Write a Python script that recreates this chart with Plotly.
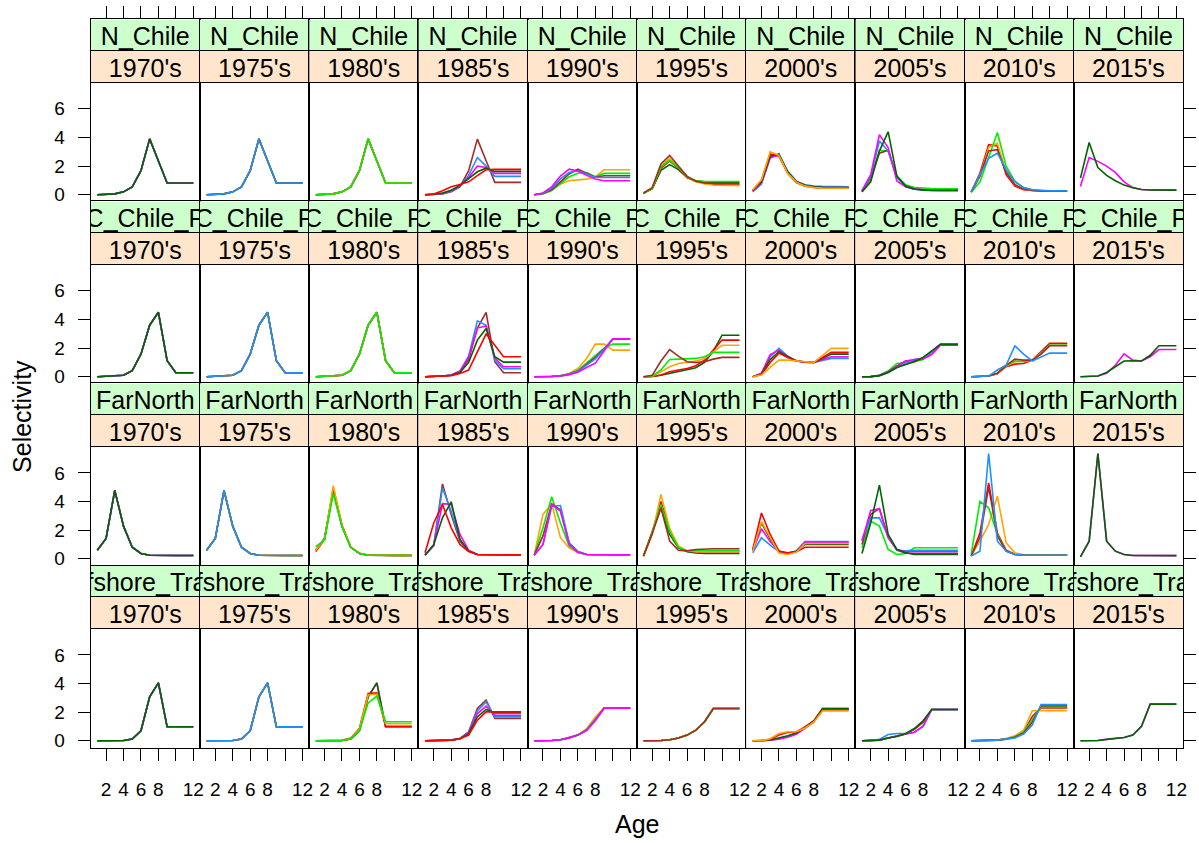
import plotly.graph_objects as go

# ---------------------------------------------------------------- data
AGES = list(range(1, 13))
FLEETS = ["N_Chile", "SC_Chile_PS", "FarNorth", "Offshore_Trawl"]
PERIOD_STARTS = [1970, 1975, 1980, 1985, 1990, 1995, 2000, 2005, 2010, 2015]
PERIOD_LABELS = ["1970's", "1975's", "1980's", "1985's", "1990's",
                 "1995's", "2000's", "2005's", "2010's", "2015's"]
Y_TICKS = [0, 2, 4, 6]
X_TICKS = [2, 4, 6, 8, 10, 12]
X_TICK_TEXT = ["2", "4", "6", "8", "", "12"]

# selectivity-at-age by year, one dict per fleet
N_CHILE_1970_84 = [0.00, 0.02, 0.06, 0.20, 0.55, 1.68, 3.90, 2.36, 0.82, 0.82, 0.82, 0.82]
N_CHILE = {
    **{y: N_CHILE_1970_84 for y in range(1970, 1985)},
    1985: [0.00, 0.02, 0.06, 0.20, 0.55, 1.68, 3.88, 2.37, 0.86, 0.86, 0.86, 0.86],
    1986: [0.00, 0.02, 0.08, 0.25, 0.60, 1.35, 2.60, 2.00, 1.28, 1.28, 1.28, 1.28],
    1987: [0.00, 0.02, 0.10, 0.28, 0.62, 1.20, 2.00, 1.90, 1.49, 1.49, 1.49, 1.49],
    1988: [0.00, 0.03, 0.12, 0.32, 0.65, 1.10, 1.60, 1.85, 1.63, 1.63, 1.63, 1.63],
    1989: [0.00, 0.05, 0.28, 0.56, 0.72, 0.90, 1.33, 1.74, 1.77, 1.77, 1.77, 1.77],
    1990: [0.00, 0.08, 0.40, 0.74, 0.98, 1.02, 1.09, 1.25, 1.74, 1.74, 1.74, 1.74],
    1991: [0.00, 0.06, 0.30, 0.80, 1.25, 1.50, 1.55, 1.25, 1.49, 1.49, 1.49, 1.49],
    1992: [0.00, 0.08, 0.35, 0.90, 1.45, 1.78, 1.50, 1.22, 1.33, 1.33, 1.33, 1.33],
    1993: [0.00, 0.10, 0.45, 1.10, 1.55, 1.68, 1.45, 1.22, 1.20, 1.20, 1.20, 1.20],
    1994: [0.00, 0.12, 0.55, 1.30, 1.78, 1.65, 1.35, 1.10, 0.98, 0.98, 0.98, 0.98],
    1995: [0.10, 0.40, 1.70, 2.10, 1.75, 1.20, 0.98, 0.90, 0.88, 0.86, 0.86, 0.86],
    1996: [0.10, 0.45, 1.85, 2.35, 1.85, 1.20, 0.92, 0.80, 0.72, 0.70, 0.70, 0.70],
    1997: [0.10, 0.45, 2.00, 2.55, 1.95, 1.25, 0.90, 0.75, 0.68, 0.65, 0.65, 0.65],
    1998: [0.10, 0.45, 1.95, 2.40, 1.90, 1.25, 0.98, 0.92, 0.92, 0.92, 0.92, 0.92],
    1999: [0.12, 0.50, 2.15, 2.75, 2.00, 1.28, 0.95, 0.82, 0.78, 0.78, 0.78, 0.78],
    2000: [0.20, 0.75, 2.55, 2.88, 1.65, 0.95, 0.70, 0.60, 0.58, 0.56, 0.56, 0.56],
    2001: [0.25, 0.85, 2.60, 2.75, 1.55, 0.90, 0.65, 0.55, 0.52, 0.50, 0.50, 0.50],
    2002: [0.30, 0.90, 2.70, 2.82, 1.60, 0.92, 0.66, 0.56, 0.52, 0.50, 0.50, 0.50],
    2003: [0.30, 1.00, 2.85, 2.70, 1.50, 0.85, 0.60, 0.50, 0.46, 0.45, 0.45, 0.45],
    2004: [0.35, 1.05, 3.00, 2.75, 1.50, 0.88, 0.60, 0.50, 0.46, 0.45, 0.45, 0.45],
    2005: [0.25, 1.10, 3.10, 3.05, 1.30, 0.70, 0.50, 0.45, 0.43, 0.42, 0.42, 0.42],
    2006: [0.25, 1.20, 2.90, 3.10, 1.25, 0.60, 0.40, 0.35, 0.33, 0.32, 0.32, 0.32],
    2007: [0.22, 1.30, 3.75, 3.05, 1.20, 0.55, 0.38, 0.32, 0.30, 0.30, 0.30, 0.30],
    2008: [0.28, 1.40, 4.20, 3.30, 0.95, 0.55, 0.38, 0.33, 0.31, 0.30, 0.30, 0.30],
    2009: [0.20, 0.90, 3.05, 4.40, 1.30, 0.60, 0.40, 0.32, 0.30, 0.30, 0.30, 0.30],
    2010: [0.20, 1.50, 3.50, 3.40, 1.40, 0.60, 0.35, 0.28, 0.25, 0.25, 0.25, 0.25],
    2011: [0.20, 1.30, 3.30, 3.60, 1.60, 0.70, 0.40, 0.30, 0.27, 0.26, 0.26, 0.26],
    2012: [0.15, 0.90, 2.60, 4.35, 2.00, 0.95, 0.50, 0.35, 0.30, 0.28, 0.28, 0.28],
    2013: [0.20, 1.30, 3.05, 3.15, 1.55, 0.70, 0.40, 0.30, 0.27, 0.26, 0.26, 0.26],
    2014: [0.20, 1.40, 2.55, 2.90, 1.75, 0.90, 0.50, 0.35, 0.30, 0.28, 0.28, 0.28],
    2015: [0.58, 2.60, 2.33, 2.00, 1.56, 0.90, 0.50, 0.37, 0.33, 0.32, 0.32, 0.32],
    2016: [1.16, 3.65, 1.90, 1.35, 0.98, 0.67, 0.48, 0.36, 0.33, 0.32, 0.32, 0.32],
}

SC_CHILE_1970_84 = [0.00, 0.01, 0.07, 0.10, 0.42, 1.58, 3.60, 4.50, 1.12, 0.28, 0.28, 0.28]
SC_CHILE_PS = {
    **{y: SC_CHILE_1970_84 for y in range(1970, 1985)},
    1985: [0.00, 0.01, 0.05, 0.10, 0.35, 1.20, 3.40, 4.50, 1.05, 0.28, 0.28, 0.28],
    1986: [0.00, 0.01, 0.05, 0.12, 0.40, 1.45, 3.90, 3.60, 1.16, 0.56, 0.56, 0.56],
    1987: [0.00, 0.01, 0.05, 0.12, 0.38, 1.35, 3.40, 3.55, 1.30, 0.70, 0.70, 0.70],
    1988: [0.00, 0.01, 0.05, 0.10, 0.30, 1.00, 2.56, 3.37, 1.40, 1.02, 1.02, 1.02],
    1989: [0.00, 0.01, 0.04, 0.08, 0.22, 0.47, 1.74, 2.98, 2.20, 1.40, 1.40, 1.40],
    1990: [0.00, 0.00, 0.02, 0.08, 0.23, 0.58, 1.28, 2.28, 2.28, 1.86, 1.86, 1.86],
    1991: [0.00, 0.00, 0.02, 0.07, 0.20, 0.45, 0.95, 1.50, 2.00, 2.28, 2.28, 2.28],
    1992: [0.00, 0.00, 0.02, 0.06, 0.18, 0.40, 0.85, 1.35, 1.95, 2.63, 2.63, 2.63],
    1993: [0.00, 0.00, 0.02, 0.06, 0.16, 0.38, 0.80, 1.25, 1.90, 2.65, 2.65, 2.65],
    1994: [0.00, 0.00, 0.02, 0.05, 0.15, 0.32, 0.65, 0.95, 1.80, 2.65, 2.65, 2.65],
    1995: [0.00, 0.02, 0.10, 0.23, 0.35, 0.47, 0.63, 1.00, 1.79, 2.90, 2.90, 2.90],
    1996: [0.00, 0.02, 0.12, 0.35, 0.47, 0.58, 0.77, 1.16, 1.86, 2.56, 2.56, 2.56],
    1997: [0.00, 0.03, 0.35, 0.70, 0.93, 1.00, 1.09, 1.28, 1.74, 2.20, 2.20, 2.20],
    1998: [0.00, 0.05, 0.47, 1.20, 1.23, 1.23, 1.28, 1.40, 1.70, 1.70, 1.70, 1.70],
    1999: [0.00, 0.10, 1.10, 1.90, 1.44, 1.05, 1.00, 1.05, 1.23, 1.35, 1.35, 1.35],
    2000: [0.00, 0.20, 1.40, 1.98, 1.45, 1.10, 1.02, 1.00, 1.14, 1.28, 1.28, 1.28],
    2001: [0.00, 0.25, 1.55, 1.85, 1.40, 1.10, 1.02, 1.00, 1.20, 1.40, 1.40, 1.40],
    2002: [0.00, 0.20, 1.20, 1.75, 1.40, 1.12, 1.02, 1.00, 1.29, 1.58, 1.58, 1.58],
    2003: [0.00, 0.15, 1.00, 1.65, 1.35, 1.12, 1.02, 1.00, 1.35, 1.70, 1.70, 1.70],
    2004: [0.00, 0.12, 0.65, 1.16, 1.16, 1.10, 1.02, 1.00, 1.49, 1.98, 1.98, 1.98],
    2005: [0.00, 0.01, 0.10, 0.40, 0.93, 1.00, 1.05, 1.20, 1.74, 2.26, 2.26, 2.26],
    2006: [0.00, 0.01, 0.10, 0.35, 0.75, 1.10, 1.10, 1.25, 1.74, 2.26, 2.26, 2.26],
    2007: [0.00, 0.01, 0.08, 0.30, 0.65, 0.90, 1.20, 1.30, 1.70, 2.26, 2.26, 2.26],
    2008: [0.00, 0.01, 0.08, 0.32, 0.70, 1.10, 1.20, 1.25, 1.55, 2.20, 2.20, 2.20],
    2009: [0.00, 0.01, 0.08, 0.30, 0.65, 0.85, 1.05, 1.35, 1.80, 2.26, 2.26, 2.26],
    2010: [0.00, 0.00, 0.05, 0.20, 0.70, 0.88, 0.93, 1.16, 1.74, 2.33, 2.33, 2.33],
    2011: [0.00, 0.00, 0.05, 0.22, 0.75, 1.05, 1.10, 1.16, 1.65, 2.20, 2.20, 2.20],
    2012: [0.00, 0.00, 0.05, 0.25, 0.80, 1.10, 1.05, 1.16, 1.60, 2.20, 2.20, 2.20],
    2013: [0.00, 0.00, 0.05, 0.25, 0.80, 1.23, 1.16, 1.16, 1.58, 2.16, 2.16, 2.16],
    2014: [0.00, 0.00, 0.05, 0.47, 0.80, 2.16, 1.58, 1.10, 1.40, 1.65, 1.65, 1.65],
    2015: [0.00, 0.00, 0.05, 0.25, 0.80, 1.60, 1.16, 1.10, 1.40, 1.90, 1.90, 1.90],
    2016: [0.00, 0.00, 0.05, 0.30, 0.70, 1.10, 1.12, 1.10, 1.50, 2.16, 2.16, 2.16],
}

FAR_NORTH_1970_81 = [0.60, 1.42, 4.77, 2.28, 0.81, 0.37, 0.25, 0.23, 0.23, 0.23, 0.23, 0.23]
FAR_NORTH = {
    **{y: FAR_NORTH_1970_81 for y in range(1970, 1982)},
    1982: [0.50, 1.35, 4.95, 2.35, 0.82, 0.38, 0.26, 0.24, 0.24, 0.24, 0.24, 0.24],
    1983: [0.60, 1.38, 5.10, 2.40, 0.83, 0.38, 0.26, 0.24, 0.24, 0.24, 0.24, 0.24],
    1984: [0.85, 1.30, 4.55, 2.25, 0.80, 0.37, 0.25, 0.24, 0.24, 0.24, 0.24, 0.24],
    1985: [0.28, 0.90, 5.23, 3.10, 1.23, 0.53, 0.30, 0.28, 0.28, 0.28, 0.28, 0.28],
    1986: [0.25, 0.95, 4.95, 3.30, 1.35, 0.55, 0.30, 0.28, 0.28, 0.28, 0.28, 0.28],
    1987: [0.25, 0.95, 3.85, 3.80, 1.70, 0.60, 0.30, 0.28, 0.28, 0.28, 0.28, 0.28],
    1988: [0.25, 1.00, 2.86, 3.98, 1.35, 0.53, 0.30, 0.28, 0.28, 0.28, 0.28, 0.28],
    1989: [0.42, 2.50, 3.80, 2.16, 1.00, 0.50, 0.30, 0.28, 0.28, 0.28, 0.28, 0.28],
    1990: [0.28, 3.10, 3.84, 1.47, 0.77, 0.42, 0.30, 0.28, 0.28, 0.28, 0.28, 0.28],
    1991: [0.25, 2.16, 4.33, 2.50, 0.90, 0.45, 0.30, 0.28, 0.28, 0.28, 0.28, 0.28],
    1992: [0.25, 1.60, 3.84, 3.40, 1.10, 0.50, 0.30, 0.28, 0.28, 0.28, 0.28, 0.28],
    1993: [0.25, 1.00, 3.67, 3.72, 1.12, 0.50, 0.30, 0.28, 0.28, 0.28, 0.28, 0.28],
    1994: [0.25, 1.00, 3.80, 3.33, 1.00, 0.45, 0.30, 0.28, 0.28, 0.28, 0.28, 0.28],
    1995: [0.20, 1.93, 3.56, 1.70, 0.77, 0.50, 0.40, 0.37, 0.37, 0.37, 0.37, 0.37],
    1996: [0.20, 1.85, 4.00, 2.00, 0.85, 0.55, 0.50, 0.50, 0.50, 0.50, 0.50, 0.50],
    1997: [0.15, 1.70, 4.50, 2.10, 0.90, 0.55, 0.50, 0.50, 0.50, 0.50, 0.50, 0.50],
    1998: [0.20, 1.80, 3.80, 1.90, 0.80, 0.55, 0.58, 0.58, 0.58, 0.58, 0.58, 0.58],
    1999: [0.20, 1.75, 3.56, 1.23, 0.60, 0.55, 0.65, 0.70, 0.70, 0.70, 0.70, 0.70],
    2000: [0.42, 1.47, 0.95, 0.50, 0.38, 0.55, 1.21, 1.21, 1.21, 1.21, 1.21, 1.21],
    2001: [0.55, 2.10, 1.20, 0.50, 0.35, 0.50, 1.16, 1.16, 1.16, 1.16, 1.16, 1.16],
    2002: [0.60, 2.50, 1.40, 0.55, 0.38, 0.52, 1.00, 1.00, 1.00, 1.00, 1.00, 1.00],
    2003: [0.65, 3.20, 1.70, 0.53, 0.42, 0.50, 0.81, 0.81, 0.81, 0.81, 0.81, 0.81],
    2004: [0.50, 2.60, 1.50, 0.40, 0.30, 0.45, 1.07, 1.07, 1.07, 1.07, 1.07, 1.07],
    2005: [0.77, 2.63, 2.28, 0.65, 0.30, 0.37, 0.77, 0.77, 0.77, 0.77, 0.77, 0.77],
    2006: [1.00, 3.10, 3.50, 1.50, 0.60, 0.40, 0.37, 0.37, 0.37, 0.37, 0.37, 0.37],
    2007: [1.35, 2.86, 2.86, 1.58, 0.60, 0.55, 0.60, 0.60, 0.60, 0.60, 0.60, 0.60],
    2008: [1.23, 3.37, 3.50, 1.47, 0.65, 0.49, 0.49, 0.49, 0.49, 0.49, 0.49, 0.49],
    2009: [0.37, 2.50, 5.14, 1.70, 0.65, 0.42, 0.30, 0.30, 0.30, 0.30, 0.30, 0.30],
    2010: [0.20, 1.80, 5.30, 1.80, 0.60, 0.32, 0.26, 0.25, 0.25, 0.25, 0.25, 0.25],
    2011: [0.20, 1.23, 2.40, 4.37, 1.12, 0.42, 0.28, 0.25, 0.25, 0.25, 0.25, 0.25],
    2012: [0.30, 4.00, 3.56, 1.70, 0.53, 0.30, 0.26, 0.25, 0.25, 0.25, 0.25, 0.25],
    2013: [0.20, 1.50, 5.00, 1.60, 0.55, 0.30, 0.26, 0.25, 0.25, 0.25, 0.25, 0.25],
    2014: [0.19, 0.53, 7.35, 1.23, 0.53, 0.30, 0.25, 0.25, 0.25, 0.25, 0.25, 0.25],
    2015: [0.14, 1.23, 7.35, 1.23, 0.53, 0.30, 0.23, 0.22, 0.22, 0.22, 0.22, 0.22],
    2016: [0.14, 1.23, 7.35, 1.23, 0.53, 0.30, 0.23, 0.22, 0.22, 0.22, 0.22, 0.22],
}

OFFSHORE_1970_81 = [0.00, 0.00, 0.00, 0.02, 0.12, 0.70, 3.07, 4.05, 0.98, 0.98, 0.98, 0.98]
OFFSHORE_TRAWL = {
    **{y: OFFSHORE_1970_81 for y in range(1970, 1982)},
    1982: [0.00, 0.00, 0.00, 0.03, 0.20, 0.86, 3.30, 3.35, 1.02, 1.02, 1.02, 1.02],
    1983: [0.00, 0.00, 0.00, 0.03, 0.18, 0.80, 3.20, 3.26, 1.20, 1.20, 1.20, 1.20],
    1984: [0.00, 0.00, 0.00, 0.03, 0.15, 0.70, 2.65, 3.12, 1.33, 1.33, 1.33, 1.33],
    1985: [0.00, 0.00, 0.00, 0.05, 0.16, 0.63, 2.26, 2.84, 1.56, 1.56, 1.56, 1.56],
    1986: [0.00, 0.00, 0.00, 0.05, 0.16, 0.60, 2.10, 2.72, 1.67, 1.67, 1.67, 1.67],
    1987: [0.00, 0.00, 0.00, 0.05, 0.16, 0.55, 1.90, 2.42, 1.79, 1.79, 1.79, 1.79],
    1988: [0.00, 0.00, 0.00, 0.05, 0.15, 0.50, 1.67, 2.19, 1.95, 1.95, 1.95, 1.95],
    1989: [0.00, 0.00, 0.00, 0.04, 0.14, 0.40, 1.44, 2.02, 2.02, 2.02, 2.02, 2.02],
    1990: [0.00, 0.00, 0.02, 0.08, 0.22, 0.42, 0.85, 1.67, 2.30, 2.30, 2.30, 2.30],
    1991: [0.00, 0.00, 0.02, 0.07, 0.21, 0.41, 0.78, 1.50, 2.28, 2.28, 2.28, 2.28],
    1992: [0.00, 0.00, 0.02, 0.07, 0.21, 0.40, 0.76, 1.47, 2.28, 2.28, 2.28, 2.28],
    1993: [0.00, 0.00, 0.02, 0.07, 0.20, 0.40, 0.74, 1.44, 2.28, 2.28, 2.28, 2.28],
    1994: [0.00, 0.00, 0.02, 0.07, 0.20, 0.40, 0.72, 1.40, 2.28, 2.28, 2.28, 2.28],
    1995: [0.00, 0.00, 0.02, 0.07, 0.20, 0.40, 0.74, 1.33, 2.26, 2.26, 2.26, 2.26],
    1996: [0.00, 0.00, 0.02, 0.07, 0.20, 0.40, 0.74, 1.33, 2.26, 2.26, 2.26, 2.26],
    1997: [0.00, 0.00, 0.02, 0.07, 0.20, 0.40, 0.74, 1.33, 2.26, 2.26, 2.26, 2.26],
    1998: [0.00, 0.00, 0.02, 0.07, 0.20, 0.40, 0.74, 1.33, 2.26, 2.26, 2.26, 2.26],
    1999: [0.00, 0.00, 0.02, 0.07, 0.20, 0.40, 0.74, 1.33, 2.26, 2.26, 2.26, 2.26],
    2000: [0.00, 0.00, 0.05, 0.15, 0.30, 0.55, 0.90, 1.35, 2.20, 2.20, 2.20, 2.20],
    2001: [0.00, 0.00, 0.04, 0.12, 0.25, 0.45, 0.85, 1.30, 2.25, 2.25, 2.25, 2.25],
    2002: [0.00, 0.00, 0.06, 0.20, 0.35, 0.55, 0.95, 1.40, 2.25, 2.25, 2.25, 2.25],
    2003: [0.00, 0.00, 0.10, 0.40, 0.58, 0.63, 0.95, 1.35, 2.15, 2.15, 2.15, 2.15],
    2004: [0.00, 0.00, 0.15, 0.51, 0.63, 0.63, 0.90, 1.30, 2.08, 2.08, 2.08, 2.08],
    2005: [0.00, 0.00, 0.05, 0.20, 0.32, 0.50, 0.80, 1.30, 2.19, 2.19, 2.19, 2.19],
    2006: [0.00, 0.00, 0.05, 0.20, 0.33, 0.50, 0.80, 1.30, 2.19, 2.19, 2.19, 2.19],
    2007: [0.00, 0.00, 0.10, 0.44, 0.51, 0.51, 0.58, 1.00, 2.19, 2.19, 2.19, 2.19],
    2008: [0.00, 0.00, 0.05, 0.20, 0.35, 0.45, 0.60, 1.02, 2.19, 2.19, 2.19, 2.19],
    2009: [0.00, 0.00, 0.05, 0.20, 0.30, 0.50, 0.86, 1.40, 2.19, 2.19, 2.19, 2.19],
    2010: [0.00, 0.00, 0.02, 0.05, 0.15, 0.30, 0.60, 1.70, 2.30, 2.30, 2.30, 2.30],
    2011: [0.00, 0.00, 0.02, 0.05, 0.15, 0.35, 0.74, 2.10, 2.10, 2.10, 2.10, 2.10],
    2012: [0.00, 0.00, 0.02, 0.05, 0.13, 0.28, 0.60, 1.50, 2.37, 2.37, 2.37, 2.37],
    2013: [0.00, 0.00, 0.02, 0.05, 0.12, 0.25, 0.55, 1.30, 2.45, 2.45, 2.45, 2.45],
    2014: [0.00, 0.00, 0.02, 0.05, 0.12, 0.20, 0.47, 1.10, 2.53, 2.53, 2.53, 2.53],
    2015: [0.00, 0.00, 0.02, 0.10, 0.16, 0.23, 0.40, 1.02, 2.56, 2.56, 2.56, 2.56],
    2016: [0.00, 0.00, 0.02, 0.10, 0.16, 0.23, 0.40, 1.02, 2.56, 2.56, 2.56, 2.56],
}

FLEET_SERIES = [N_CHILE, SC_CHILE_PS, FAR_NORTH, OFFSHORE_TRAWL]

# ---------------------------------------------------------------- style
# group colours cycle with the year (1970 -> first entry)
YEAR_COLOURS = ["#00EE00", "#A52A2A", "#1E90FF", "#FF00FF",
                "#006400", "#FF0000", "#FFA500"]
STRIP_PERIOD_BG = "#FFE5CC"
STRIP_FLEET_BG = "#CCFFCC"
FONT = "Liberation Sans, Arial, Helvetica, sans-serif"

W, H = 1199, 843
LEFT, PANEL_W = 91.0, 109.6
TOP, ROW_STEP, PANEL_H, STRIP_H = 82.7, 182.9, 120.0, 31.6
X_RANGE = [0.24, 12.76]
Y_RANGE = [-0.49, 7.85]
N_COLS = len(PERIOD_STARTS)
N_PANELS = N_COLS * len(FLEETS)
# vertical position of the strip labels inside each strip band (band = 1 unit)
STRIP_TEXT_Y = [0.38, 1.38]


def fx(px):
    return px / W


def fy(py):
    return 1 - py / H


fig = go.Figure()
layout = {}
shapes = []

for r, (fleet, series) in enumerate(zip(FLEETS, FLEET_SERIES)):
    for c, (start, label) in enumerate(zip(PERIOD_STARTS, PERIOD_LABELS)):
        k = r * N_COLS + c + 1          # data panel
        s = k + N_PANELS                # strip panel above it
        x0 = LEFT + c * PANEL_W
        x1 = x0 + PANEL_W
        p_top = TOP + r * ROW_STEP
        p_bot = p_top + PANEL_H
        s_top = p_top - 2 * STRIP_H

        bottom_row = r == len(FLEETS) - 1
        first_col = c == 0
        last_col = c == N_COLS - 1

        layout[f"xaxis{k}"] = dict(
            domain=[fx(x0), fx(x1)], anchor=f"y{k}", range=X_RANGE,
            showgrid=False, zeroline=False,
            showline=True, mirror=True, linecolor="#000", linewidth=1.2,
            ticks="outside" if bottom_row else "", ticklen=12,
            tickwidth=1, tickcolor="#000",
            tickvals=X_TICKS, ticktext=X_TICK_TEXT,
            showticklabels=bottom_row, ticklabelstandoff=12,
            tickfont=dict(family=FONT, size=19, color="#000"),
        )
        layout[f"yaxis{k}"] = dict(
            domain=[fy(p_bot), fy(p_top)], anchor=f"x{k}", range=Y_RANGE,
            showgrid=False, zeroline=False,
            showline=True, mirror=True, linecolor="#000", linewidth=1.2,
            side="right" if last_col else "left",
            ticks="outside" if (first_col or last_col) else "", ticklen=12,
            tickwidth=1, tickcolor="#000",
            tickvals=Y_TICKS, showticklabels=first_col, ticklabelstandoff=9,
            tickfont=dict(family=FONT, size=19, color="#000"),
        )

        # strip panel: period on the lower strip, fleet on the upper one
        layout[f"xaxis{s}"] = dict(
            domain=[fx(x0), fx(x1)], anchor=f"y{s}", range=X_RANGE,
            showgrid=False, zeroline=False,
            showline=True, mirror=True, linecolor="#000", linewidth=1.2,
            side="top",
            ticks="outside" if r == 0 else "", ticklen=12,
            tickwidth=1, tickcolor="#000",
            tickvals=X_TICKS, showticklabels=False,
        )
        layout[f"yaxis{s}"] = dict(
            domain=[fy(p_top), fy(s_top)], anchor=f"x{s}", range=[0, 2],
            showgrid=True, gridcolor="#000", gridwidth=1.2, tickvals=[1],
            zeroline=False, showticklabels=False, ticks="",
            showline=True, mirror=True, linecolor="#000", linewidth=1.2,
        )
        shapes.append(dict(type="rect", xref=f"x{s}", yref=f"y{s}",
                           x0=X_RANGE[0], x1=X_RANGE[1], y0=0, y1=1,
                           fillcolor=STRIP_PERIOD_BG, line=dict(width=0),
                           layer="below"))
        shapes.append(dict(type="rect", xref=f"x{s}", yref=f"y{s}",
                           x0=X_RANGE[0], x1=X_RANGE[1], y0=1, y1=2,
                           fillcolor=STRIP_FLEET_BG, line=dict(width=0),
                           layer="below"))
        fig.add_trace(go.Scatter(
            x=[(X_RANGE[0] + X_RANGE[1]) / 2] * 2, y=STRIP_TEXT_Y,
            text=[label, fleet], mode="text", textposition="middle center",
            textfont=dict(family=FONT, size=25, color="#000"),
            cliponaxis=True, hoverinfo="skip", showlegend=False,
            xaxis=f"x{s}", yaxis=f"y{s}",
        ))

        # one selectivity curve per year in this period
        years = sorted(y for y in series if start <= y < start + 5)
        for year in years:
            fig.add_trace(go.Scatter(
                x=AGES, y=series[year], mode="lines",
                line=dict(color=YEAR_COLOURS[(year - 1970) % 7], width=1.6),
                name=str(year), showlegend=False, hoverinfo="skip",
                xaxis=f"x{k}", yaxis=f"y{k}",
            ))

fig.update_layout(
    width=W, height=H, autosize=False,
    margin=dict(l=0, r=0, t=0, b=0),
    paper_bgcolor="#FFFFFF", plot_bgcolor="#FFFFFF",
    font=dict(family=FONT, color="#000"),
    shapes=shapes,
    annotations=[
        dict(text="Selectivity", xref="paper", yref="paper",
             x=fx(22), y=fy(418), textangle=-90, showarrow=False,
             xanchor="center", yanchor="middle",
             font=dict(family=FONT, size=25, color="#000")),
        dict(text="Age", xref="paper", yref="paper",
             x=fx(639), y=fy(828), showarrow=False,
             xanchor="center", yanchor="middle",
             font=dict(family=FONT, size=25, color="#000")),
    ],
    **layout,
)

fig.write_html("out.html")
